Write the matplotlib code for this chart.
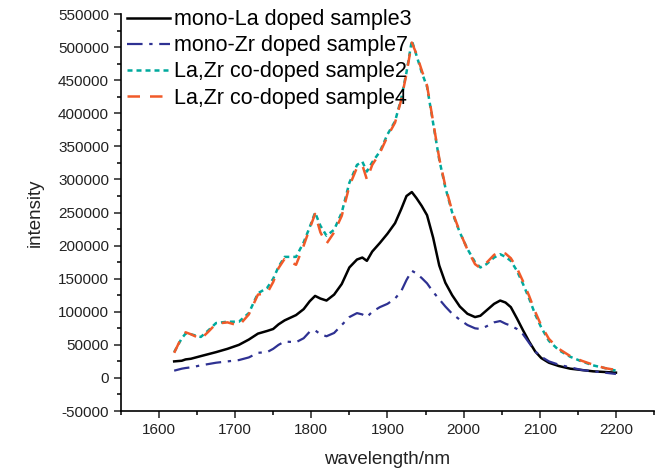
import numpy as np
import matplotlib.pyplot as plt
from matplotlib.ticker import MultipleLocator

plt.rcParams['font.family'] = ['Liberation Sans', 'DejaVu Sans']
plt.rcParams['axes.unicode_minus'] = False

# wavelength grid (nm)
wl = [1620, 1630, 1635, 1642, 1655, 1665, 1675, 1690, 1705, 1718,
      1730, 1742, 1750, 1757, 1765, 1780, 1790, 1798, 1805, 1812,
      1820, 1830, 1840, 1850, 1860, 1867, 1873, 1880, 1890, 1900,
      1910, 1918, 1925, 1932, 1938, 1945, 1952, 1960, 1968, 1976,
      1985, 1995, 2005, 2015, 2022, 2030, 2040, 2048, 2055, 2062,
      2070, 2078, 2086, 2094, 2102, 2112, 2125, 2140, 2155, 2170,
      2185, 2200]

la3 = [25000, 26000, 28000, 29000, 33000, 36000, 39000, 44000, 50000, 58000,
       67000, 71000, 74000, 81000, 87000, 95000, 104000, 116000, 124000, 120000,
       117000, 126000, 142000, 167000, 179000, 182000, 177000, 191000, 204000, 218000,
       234000, 255000, 275000, 281000, 272000, 260000, 246000, 212000, 170000, 144000,
       125000, 108000, 97000, 92000, 94000, 102000, 112000, 117000, 114000, 107000,
       90000, 72000, 55000, 40000, 30000, 23000, 18000, 14000, 12000, 10000,
       9000, 8000]

zr7 = [11000, 14000, 15000, 16000, 19000, 21000, 23000, 25000, 27000, 31000,
       38000, 39000, 44000, 50000, 55000, 54000, 60000, 70000, 72000, 66000,
       63000, 68000, 80000, 92000, 98000, 96000, 92000, 100000, 107000, 112000,
       120000, 131000, 148000, 162000, 158000, 151000, 143000, 130000, 119000, 108000,
       97000, 88000, 80000, 75000, 74000, 78000, 84000, 86000, 82000, 79000,
       74000, 66000, 53000, 40000, 32000, 25000, 20000, 16000, 12000, 10000,
       8000, 6000]

co2 = [39000, 60000, 67000, 66000, 62000, 72000, 83000, 85000, 85000, 98000,
       128000, 136000, 150000, 168000, 183000, 183000, 205000, 228000, 250000, 230000,
       215000, 224000, 250000, 295000, 322000, 327000, 312000, 326000, 342000, 368000,
       388000, 422000, 462000, 510000, 488000, 462000, 440000, 385000, 330000, 288000,
       250000, 220000, 195000, 175000, 167000, 172000, 182000, 187000, 183000, 177000,
       162000, 142000, 120000, 96000, 76000, 56000, 42000, 32000, 25000, 19000,
       15000, 11000]

co4 = [38000, 62000, 69000, 66000, 59000, 70000, 82000, 84000, 79000, 96000,
       126000, 128000, 145000, 166000, 180000, 171000, 200000, 226000, 248000, 220000,
       203000, 220000, 245000, 290000, 318000, 322000, 300000, 322000, 340000, 365000,
       386000, 420000, 460000, 507000, 490000, 465000, 442000, 387000, 332000, 290000,
       252000, 221000, 194000, 172000, 166000, 174000, 186000, 191000, 188000, 181000,
       166000, 146000, 124000, 100000, 79000, 59000, 44000, 33000, 26000, 20000,
       15000, 12000]

fig = plt.figure(figsize=(6.64, 4.70), dpi=100)
ax = fig.add_axes([0.182, 0.1255, 0.803, 0.8445])

ax.plot(wl, la3, color='black', lw=1.8, ls='-', label='mono-La doped sample3')
ax.plot(wl, zr7, color='#2E3192', lw=1.6, dashes=(7, 3, 1.5, 3), label='mono-Zr doped sample7')
ax.plot(wl, co2, color='#00A99D', lw=1.8, dashes=(2, 1.6), label='La,Zr co-doped sample2')
ax.plot(wl, co4, color='#F15A29', lw=1.8, dashes=(5, 4), label='La,Zr co-doped sample4')

ax.set_xlim(1550, 2250)
ax.set_ylim(-50000, 550000)
ax.xaxis.set_major_locator(MultipleLocator(100))
ax.xaxis.set_minor_locator(MultipleLocator(50))
ax.yaxis.set_major_locator(MultipleLocator(50000))
ax.yaxis.set_minor_locator(MultipleLocator(25000))

for s in ['top', 'right']:
    ax.spines[s].set_visible(False)
ax.spines['left'].set_linewidth(1.2)
ax.spines['bottom'].set_linewidth(1.2)
ax.tick_params(which='major', direction='out', length=5, width=1.1, labelsize=11, colors='#222222')
ax.tick_params(which='minor', direction='out', length=3, width=1.1)

ax.set_xlabel('wavelength/nm', fontsize=13.5, color='#222222', labelpad=10)
ax.set_ylabel('intensity', fontsize=13.5, color='#222222', labelpad=10)

ax.legend(loc='upper left', bbox_to_anchor=(-0.012, 1.045), frameon=False, fontsize=15.5,
          handlelength=2.0, handletextpad=0.15, labelspacing=0.24, borderaxespad=0.2)

fig.savefig('out.png', dpi=100)
